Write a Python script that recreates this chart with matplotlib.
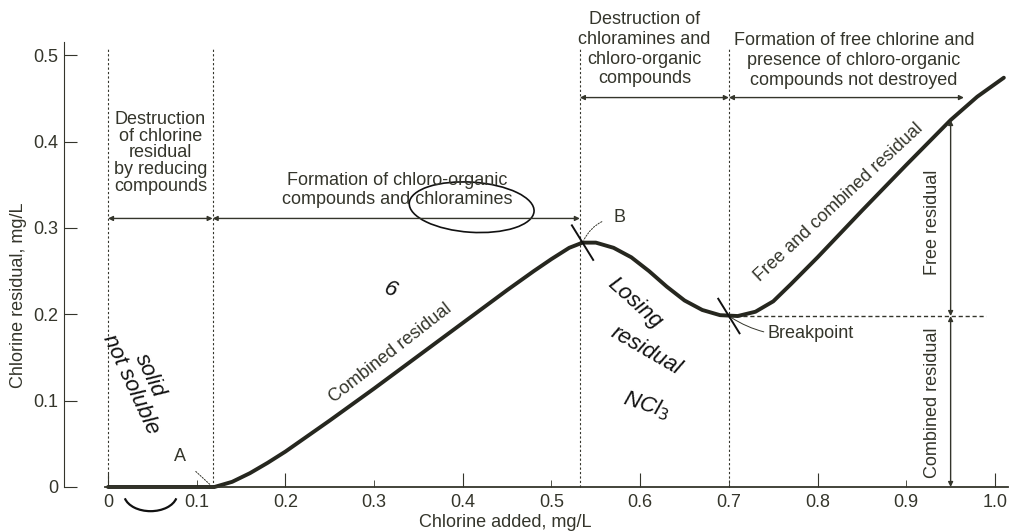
import matplotlib.pyplot as plt
from matplotlib.patches import Ellipse, Arc

plt.rcParams['font.family'] = ['Liberation Sans', 'DejaVu Sans']

# Breakpoint chlorination curve
chlorine_added = [0.0, 0.05, 0.10, 0.12, 0.14, 0.16, 0.18, 0.20, 0.25, 0.30,
                  0.35, 0.40, 0.45, 0.48, 0.50, 0.52, 0.535, 0.55, 0.57, 0.59,
                  0.61, 0.63, 0.65, 0.67, 0.69, 0.71, 0.73, 0.75, 0.77, 0.80,
                  0.85, 0.90, 0.95, 0.98, 1.01]
chlorine_residual = [0.0, 0.0, 0.0, 0.0, 0.006, 0.016, 0.028, 0.041, 0.077, 0.114,
                     0.152, 0.190, 0.228, 0.250, 0.264, 0.277, 0.283, 0.283, 0.277, 0.266,
                     0.250, 0.232, 0.216, 0.205, 0.199, 0.198, 0.203, 0.215, 0.235, 0.266,
                     0.320, 0.373, 0.425, 0.452, 0.474]

x_ticks = [0, 0.1, 0.2, 0.3, 0.4, 0.5, 0.6, 0.7, 0.8, 0.9, 1.0]
x_tick_labels = ['0', '0.1', '0.2', '0.3', '0.4', '0.5', '0.6', '0.7', '0.8', '0.9', '1.0']
y_ticks = [0, 0.1, 0.2, 0.3, 0.4, 0.5]
y_tick_labels = ['0', '0.1', '0.2', '0.3', '0.4', '0.5']

zone_edges = [0.0, 0.118, 0.532, 0.70]
point_a = (0.118, 0.0)
point_b = (0.535, 0.283)
breakpoint = (0.70, 0.198)
dim_x = 0.95

ink = '#34352b'
pen = '#111111'
fs = 13

fig = plt.figure(figsize=(10.1, 5.32), dpi=100)
ax = fig.add_axes([0.1043, 0.0846, 0.8940, 0.8440])
ax.set_xlim(-0.003, 1.015)
ax.set_ylim(0, 0.52)

# axes styling
for s in ['top', 'right']:
    ax.spines[s].set_visible(False)
ax.spines['left'].set_position(('outward', 30))
ax.spines['left'].set_bounds(0, 0.515)
ax.spines['left'].set_color(ink)
ax.spines['bottom'].set_color(ink)
ax.spines['bottom'].set_linewidth(1.3)

major_x = [t for i, t in enumerate(x_ticks) if i % 2 == 0]
minor_x = [t for i, t in enumerate(x_ticks) if i % 2 == 1]
ax.set_xticks(major_x, [l for i, l in enumerate(x_tick_labels) if i % 2 == 0])
ax.set_xticks(minor_x, [l for i, l in enumerate(x_tick_labels) if i % 2 == 1], minor=True)
ax.set_yticks(y_ticks, y_tick_labels)
ax.tick_params(axis='x', which='major', direction='in', length=10, pad=5,
               labelsize=fs, colors=ink)
ax.tick_params(axis='x', which='minor', direction='in', length=5, pad=5,
               labelsize=fs, colors=ink)
ax.tick_params(axis='y', direction='in', length=9, pad=4, labelsize=fs, colors=ink)

# dashed guide lines
for xe in zone_edges:
    ax.plot([xe, xe], [0, 0.51], color=ink, lw=0.8, ls=(0, (2, 2)))
ax.plot([breakpoint[0], 0.99], [breakpoint[1], breakpoint[1]], color=ink, lw=1.0,
        ls=(0, (3, 2)))

# the curve
ax.plot(chlorine_added, chlorine_residual, color='#26271f', lw=2.8,
        solid_capstyle='round')

# zone arrows
arrow = dict(arrowstyle='<|-|>', color=ink, lw=1.0, mutation_scale=7,
             shrinkA=0, shrinkB=0)
ax.annotate('', xy=(zone_edges[0], 0.311), xytext=(zone_edges[1], 0.311), arrowprops=arrow)
ax.annotate('', xy=(zone_edges[1], 0.311), xytext=(zone_edges[2], 0.311), arrowprops=arrow)
ax.annotate('', xy=(zone_edges[2], 0.451), xytext=(zone_edges[3], 0.451), arrowprops=arrow)
ax.annotate('', xy=(zone_edges[3], 0.451), xytext=(0.965, 0.451), arrowprops=arrow)

# dimension line at right
ax.annotate('', xy=(dim_x, 0.0), xytext=(dim_x, breakpoint[1]), arrowprops=arrow)
ax.annotate('', xy=(dim_x, breakpoint[1]), xytext=(dim_x, 0.425), arrowprops=arrow)

tk = dict(color=ink, fontsize=fs, ha='center', va='center')
ax.text(0.059, 0.387, 'Destruction\nof chlorine\nresidual\nby reducing\ncompounds',
        linespacing=0.98, **tk)
ax.text(0.326, 0.344, 'Formation of chloro-organic\ncompounds and chloramines',
        linespacing=1.1, **tk)
ax.text(0.605, 0.507, 'Destruction of\nchloramines and\nchloro-organic\ncompounds',
        linespacing=1.2, **tk)
ax.text(0.841, 0.494, 'Formation of free chlorine and\npresence of chloro-organic\ncompounds not destroyed',
        linespacing=1.2, **tk)

ax.text(0.318, 0.155, 'Combined residual', color=ink, fontsize=fs, rotation=38,
        ha='center', va='center', rotation_mode='anchor')
ax.text(0.824, 0.329, 'Free and combined residual', color=ink, fontsize=fs,
        rotation=43, ha='center', va='center', rotation_mode='anchor')
ax.text(0.929, 0.098, 'Combined residual', color=ink, fontsize=fs, rotation=90,
        ha='center', va='center')
ax.text(0.929, 0.306, 'Free residual', color=ink, fontsize=fs, rotation=90,
        ha='center', va='center')

lead = dict(arrowstyle='-', color=ink, lw=0.7, ls=(0, (1.5, 1.5)))
ax.annotate('A', xy=point_a, xytext=(0.081, 0.035), color=ink, fontsize=fs,
            ha='center', va='center', arrowprops=dict(lead, shrinkA=7))
ax.annotate('B', xy=point_b, xytext=(0.577, 0.3125), color=ink, fontsize=fs,
            ha='center', va='center',
            arrowprops=dict(lead, shrinkA=7, connectionstyle='arc3,rad=0.3'))
ax.annotate('Breakpoint', xy=breakpoint, xytext=(0.744, 0.178), color=ink,
            fontsize=fs, ha='left', va='center',
            arrowprops=dict(arrowstyle='-', color=ink, lw=0.7, shrinkA=1,
                            connectionstyle='arc3,rad=-0.2'))

# handwritten notes on the page
hw = dict(color=pen, fontsize=16, fontstyle='italic', ha='center', va='center')
ax.text(0.036, 0.124, 'solid\nnot soluble', rotation=-65, linespacing=1.0, **hw)
ax.text(0.594, 0.213, 'Losing', rotation=-42, **hw)
ax.text(0.607, 0.158, 'residual', rotation=-30, **hw)
ax.text(0.607, 0.095, 'NCl$_3$', rotation=-18, **hw)
ax.text(0.318, 0.228, '6', rotation=-20, **hw)
ax.add_patch(Ellipse((0.41, 0.324), 0.141, 0.058, angle=-4, fill=False,
                     edgecolor=pen, lw=1.2))
ax.add_patch(Arc((0.048, -0.008), 0.06, 0.04, theta1=190, theta2=350,
                 edgecolor=pen, lw=1.6))
for px, py in [point_b, breakpoint]:
    ax.plot([px - 0.012, px + 0.012], [py + 0.02, py - 0.02], color=pen, lw=1.4)

for a in ax.patches + ax.lines + ax.texts:
    a.set_clip_on(False)

fig.text(0.018, 0.445, 'Chlorine residual, mg/L', rotation=90, color=ink,
         fontsize=fs, ha='center', va='center')
fig.text(0.50, 0.001, 'Chlorine added, mg/L', color=ink, fontsize=fs,
         ha='center', va='bottom')

plt.savefig('out.png', dpi=100)
